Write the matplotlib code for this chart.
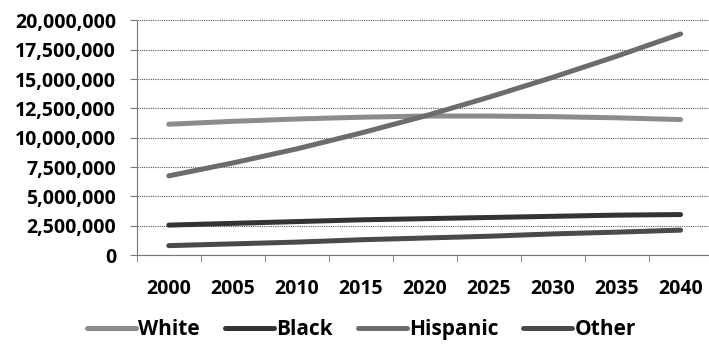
import matplotlib.pyplot as plt
from matplotlib.ticker import FuncFormatter, FixedLocator
import numpy as np

years = ["2000", "2005", "2010", "2015", "2020", "2025", "2030", "2035", "2040"]
white = [11150000, 11400000, 11600000, 11750000, 11850000, 11850000, 11800000, 11700000, 11550000]
black = [2550000, 2700000, 2850000, 3000000, 3100000, 3200000, 3300000, 3400000, 3450000]
hispanic = [6750000, 7850000, 9050000, 10400000, 11850000, 13450000, 15150000, 16950000, 18850000]
other = [800000, 950000, 1100000, 1300000, 1450000, 1600000, 1800000, 1950000, 2120000]

plt.rcParams['font.family'] = ['Open Sans', 'DejaVu Sans']
plt.rcParams['font.weight'] = 'bold'

fig = plt.figure(figsize=(7.09, 3.49), dpi=100)
ax = fig.add_axes([0.193, 0.2693, 0.812, 0.672])

x = np.arange(len(years))
ax.plot(x, white, color="#8c8c8c", lw=3.6, solid_capstyle="round", label="White")
ax.plot(x, black, color="#333333", lw=3.6, solid_capstyle="round", label="Black")
ax.plot(x, hispanic, color="#6c6c6c", lw=3.6, solid_capstyle="round", label="Hispanic")
ax.plot(x, other, color="#4a4a4a", lw=3.6, solid_capstyle="round", label="Other")

ax.set_xlim(-0.5, 8.5)
ax.set_ylim(0, 20000000)
ax.set_yticks(np.arange(0, 20000001, 2500000))
ax.yaxis.set_major_formatter(FuncFormatter(lambda v, p: f"{int(v):,}"))
ax.set_xticks(x)
ax.set_xticklabels(years)
ax.xaxis.set_minor_locator(FixedLocator(np.arange(-0.5, 9, 1)))
ax.tick_params(axis="x", which="major", length=0, pad=17, labelsize=14)
ax.tick_params(axis="x", which="minor", length=5, color="#777777", direction="out")
ax.tick_params(axis="y", length=5, color="#777777", labelsize=14, pad=10)

ax.grid(axis="y", linestyle=(0, (1, 1)), color="#555555", lw=0.8)
ax.set_axisbelow(True)
for s in ["top", "right"]:
    ax.spines[s].set_visible(False)
for s in ["left", "bottom"]:
    ax.spines[s].set_color("#777777")

fig.legend(loc="center", bbox_to_anchor=(0.51, 0.056), ncol=4, frameon=False,
           fontsize=15, handlelength=2.35, handletextpad=0.1, columnspacing=1.2,
           borderpad=0, borderaxespad=0)

fig.savefig("out.png", dpi=100)
